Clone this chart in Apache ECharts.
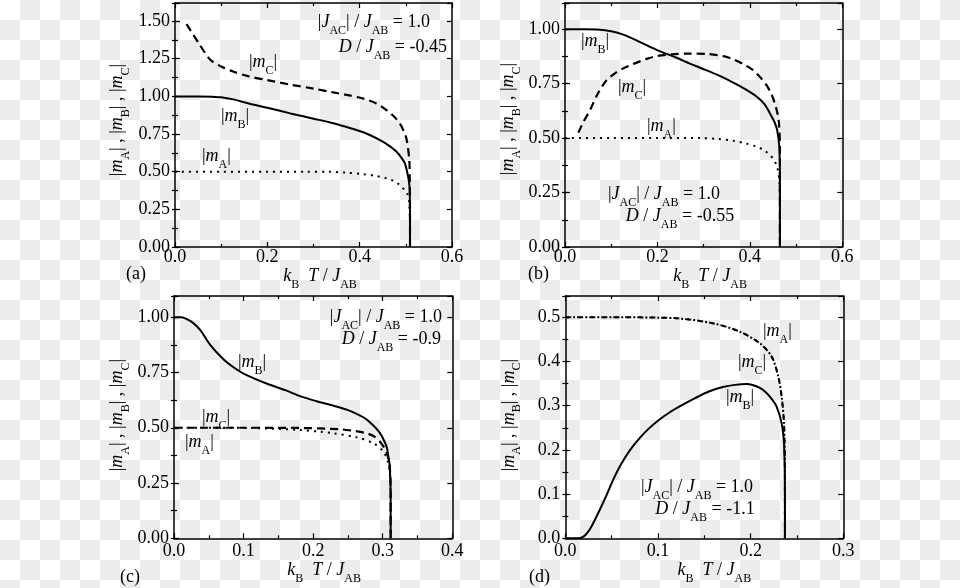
<!DOCTYPE html>
<html><head><meta charset="utf-8">
<script src="https://cdn.jsdelivr.net/npm/echarts@6/dist/echarts.min.js"></script>
<style>
html,body{margin:0;padding:0;}
body{width:960px;height:588px;background-color:#fff;background-image:repeating-conic-gradient(#ececec 0 25%, #ffffff 0 50%);background-size:40px 40px;}
#c{width:960px;height:588px;}
</style></head><body><div id="c"></div>
<script>
const FONT = 'Liberation Serif';

// ---- data: [kB T / J_AB, |m|] ----
// panel (a)  |JAC|/JAB = 1.0, D/JAB = -0.45
const a_mA = [[0,0.5],[0.1,0.5],[0.2,0.5],[0.28,0.5],[0.336,0.499],[0.37,0.494],[0.408,0.484],[0.435,0.472],[0.458,0.456],[0.475,0.437],[0.487,0.411],[0.497,0.38],[0.503,0.356],[0.507,0.3],[0.509,0.15],[0.509,0]];
const a_mB = [[0,1],[0.05,1],[0.08,0.998],[0.1,0.994],[0.126,0.98],[0.16,0.953],[0.2,0.925],[0.25,0.887],[0.3,0.852],[0.336,0.827],[0.37,0.798],[0.408,0.762],[0.444,0.71],[0.465,0.67],[0.48,0.632],[0.491,0.59],[0.498,0.555],[0.505,0.467],[0.508,0.4],[0.509,0.2],[0.509,0]];
const a_mC = [[0.025,1.48],[0.05,1.36],[0.076,1.245],[0.1,1.198],[0.126,1.165],[0.16,1.133],[0.2,1.108],[0.25,1.078],[0.3,1.052],[0.34,1.028],[0.375,1.008],[0.408,0.985],[0.435,0.955],[0.458,0.909],[0.475,0.865],[0.487,0.82],[0.496,0.765],[0.502,0.71],[0.5075,0.577],[0.5085,0.45],[0.509,0.3],[0.509,0]];
// panel (b)  |JAC|/JAB = 1.0, D/JAB = -0.55
const b_mA = [[0,0.5],[0.1,0.5],[0.2,0.5],[0.292,0.5],[0.33,0.496],[0.364,0.488],[0.39,0.476],[0.415,0.46],[0.43,0.445],[0.4435,0.422],[0.452,0.4],[0.459,0.368],[0.4637,0.307],[0.465,0.2],[0.465,0]];
const b_mB = [[0,1],[0.04,1],[0.07,0.998],[0.1,0.99],[0.126,0.975],[0.16,0.943],[0.198,0.905],[0.24,0.87],[0.27,0.842],[0.292,0.823],[0.33,0.79],[0.364,0.755],[0.39,0.725],[0.415,0.69],[0.432,0.655],[0.4435,0.613],[0.453,0.575],[0.459,0.537],[0.4637,0.46],[0.465,0.3],[0.465,0]];
const b_mC = [[0.029,0.525],[0.04,0.575],[0.054,0.628],[0.07,0.7],[0.09,0.766],[0.11,0.8],[0.126,0.82],[0.145,0.838],[0.162,0.852],[0.18,0.866],[0.198,0.876],[0.23,0.884],[0.27,0.888],[0.307,0.886],[0.342,0.876],[0.364,0.862],[0.385,0.84],[0.407,0.812],[0.422,0.78],[0.436,0.743],[0.447,0.7],[0.454,0.659],[0.459,0.62],[0.463,0.567],[0.465,0.45],[0.465,0]];
// panel (c)  |JAC|/JAB = 1.0, D/JAB = -0.9
const c_mA = [[0,0.5],[0.08,0.5],[0.13,0.497],[0.181,0.49],[0.21,0.482],[0.229,0.475],[0.2625,0.457],[0.2865,0.43],[0.301,0.392],[0.308,0.339],[0.3105,0.28],[0.3114,0.15],[0.3114,0]];
const c_mB = [[0,1],[0.01,1],[0.016,0.995],[0.025,0.98],[0.037,0.945],[0.052,0.875],[0.071,0.81],[0.085,0.775],[0.1,0.745],[0.133,0.7],[0.16,0.67],[0.181,0.643],[0.205,0.62],[0.229,0.6],[0.25,0.58],[0.2625,0.563],[0.275,0.542],[0.2865,0.51],[0.295,0.48],[0.301,0.448],[0.306,0.41],[0.308,0.37],[0.31,0.33],[0.3114,0.2],[0.3114,0]];
const c_mC = [[0,0.5],[0.1,0.5],[0.181,0.499],[0.2386,0.493],[0.26,0.485],[0.277,0.475],[0.288,0.46],[0.296,0.437],[0.302,0.41],[0.3066,0.377],[0.31,0.33],[0.3114,0.2],[0.3114,0]];
// panel (d)  |JAC|/JAB = 1.0, D/JAB = -1.1  (|mA| and |mC| coincide)
const d_mA = [[0,0.5],[0.06,0.5],[0.1,0.499],[0.1236,0.497],[0.16,0.486],[0.1885,0.467],[0.21,0.441],[0.2227,0.411],[0.2298,0.366],[0.2335,0.32],[0.236,0.26],[0.237,0.15],[0.237,0]];
const d_mC = [[0,0.5],[0.06,0.5],[0.1,0.499],[0.1236,0.497],[0.16,0.486],[0.1885,0.467],[0.21,0.441],[0.2227,0.411],[0.2298,0.366],[0.2335,0.32],[0.236,0.26],[0.237,0.15],[0.237,0]];
const d_mB = [[0,0],[0.015,0],[0.018,0.002],[0.022,0.008],[0.027,0.022],[0.032,0.042],[0.038,0.068],[0.045,0.1],[0.052,0.134],[0.06,0.167],[0.07,0.2],[0.08,0.226],[0.09,0.248],[0.1,0.266],[0.112,0.284],[0.125,0.3],[0.14,0.317],[0.155,0.332],[0.17,0.342],[0.183,0.347],[0.1957,0.349],[0.203,0.346],[0.21,0.34],[0.216,0.331],[0.2209,0.32],[0.228,0.298],[0.2335,0.26],[0.236,0.215],[0.237,0.1],[0.237,0]];

// parameter labels
const jacText = ['1.0','1.0','1.0','1.0'];
const dText = ['-0.45','-0.55','-0.9','-1.1'];
const panelTags = ['(a)','(b)','(c)','(d)'];

// ---- layout ----
const panels = [
  {grid:{left:175,top:3,width:277,height:244}, xMax:0.6, xInt:0.2, yMax:1.62, yInt:0.25, yDec:2, xLM:1, xNG:12, xNP:13, yNG:43, yNP:10},
  {grid:{left:565,top:3,width:277.3,height:244}, xMax:0.6, xInt:0.2, yMax:1.12, yInt:0.25, yDec:2, xLM:1, xNG:12, xNP:13, yNG:42, yNP:12},
  {grid:{left:174,top:296,width:278.3,height:242.3}, xMax:0.4, xInt:0.1, yMax:1.096, yInt:0.25, yDec:2, xLM:4, xNG:17, xNP:22, yNG:42, yNP:4},
  {grid:{left:565.3,top:296,width:278,height:242.3}, xMax:0.3, xInt:0.1, yMax:0.548, yInt:0.1, yDec:1, xLM:4, xNG:17, xNP:20, yNG:42, yNP:4}
];

const richEC = {
  n:{fontFamily:FONT,fontSize:18,color:'#000'},
  i:{fontFamily:FONT,fontSize:18,fontStyle:'italic',color:'#000'},
  s:{fontFamily:FONT,fontSize:12,color:'#000',padding:[17,0,0,0]}
};
const richZR = {
  n:{fontFamily:FONT,fontSize:18,fill:'#000'},
  i:{fontFamily:FONT,fontSize:18,fontStyle:'italic',fill:'#000'},
  s:{fontFamily:FONT,fontSize:12,fill:'#000',padding:[17,0,0,0]}
};
const X_NAME = '{i|k}{s|B}{n|  }{i|T}{n| / }{i|J}{s|AB}';
const Y_NAME = '{n||}{i|m}{s|A}{n|| , |}{i|m}{s|B}{n|| , |}{i|m}{s|C}{n||}';
const lbl = k => '{n||}{i|m}{s|' + k + '}{n||}';
const jacStr = v => '{n||}{i|J}{s|AC}{n|| / }{i|J}{s|AB}{n| = ' + v + '}';
const dStr = v => '{i|D}{n| / }{i|J}{s|AB}{n| = ' + v + '}';

const lineAx = {show:true, onZero:false, lineStyle:{color:'#000', width:1.5}};
const tickStyle = {color:'#000', width:1.2};

const xAxis = [], yAxis = [];
panels.forEach((p, i) => {
  const xBase = {type:'value', gridIndex:i, min:0, max:p.xMax, interval:p.xInt, splitLine:{show:false},
    axisTick:{show:true, inside:true, length:5, lineStyle:tickStyle},
    minorTick:{show:true, splitNumber:2, length:3, lineStyle:tickStyle}};
  xAxis.push(Object.assign({}, xBase, {position:'bottom', axisLine:lineAx,
    axisLabel:{show:true, margin:p.xLM, fontFamily:FONT, fontSize:18, color:'#000', formatter:v => v.toFixed(1)},
    name:X_NAME, nameLocation:'middle', nameGap:p.xNG,
    nameTextStyle:{fontFamily:FONT, fontSize:18, color:'#000', rich:richEC, padding:[0,0,0,p.xNP]}}));
  xAxis.push(Object.assign({}, xBase, {position:'top', axisLine:lineAx, axisLabel:{show:false}}));
  const isMajor = v => Math.abs(v / p.yInt - Math.round(v / p.yInt)) < 1e-6;
  const yBase = {type:'value', gridIndex:i, min:0, max:p.yMax, splitLine:{show:false}};
  yAxis.push(Object.assign({}, yBase, {position:'left', interval:p.yInt, axisLine:lineAx,
    axisTick:{show:true, inside:true, length:5, lineStyle:tickStyle},
    axisLabel:{show:true, margin:5, fontFamily:FONT, fontSize:18, color:'#000', formatter:v => isMajor(v) ? v.toFixed(p.yDec) : ''},
    name:Y_NAME, nameLocation:'middle', nameGap:p.yNG, nameRotate:90,
    nameTextStyle:{fontFamily:FONT, fontSize:18, color:'#000', rich:richEC, padding:[0,0,0,p.yNP]}}));
  yAxis.push(Object.assign({}, yBase, {position:'left', interval:p.yInt/2, axisLine:{show:false},
    axisTick:{show:true, inside:true, length:3, lineStyle:tickStyle}, axisLabel:{show:false}}));
  yAxis.push(Object.assign({}, yBase, {position:'right', interval:p.yInt, axisLine:lineAx,
    axisTick:{show:true, inside:true, length:5, lineStyle:tickStyle}, axisLabel:{show:false}}));
  yAxis.push(Object.assign({}, yBase, {position:'right', interval:p.yInt/2, axisLine:{show:false},
    axisTick:{show:true, inside:true, length:3, lineStyle:tickStyle}, axisLabel:{show:false}}));
});

const SOLID = {color:'#000', width:2, type:'solid'};
const DASH = {color:'#000', width:2.2, type:[8,5]};
const DOT = {color:'#000', width:2, type:[2,5]};
const DASH_D = {color:'#000', width:2, type:[6,6]};
const DOT_D = {color:'#000', width:2, type:[2,4], dashOffset:4};

function line(name, data, pi, style) {
  return {type:'line', name, data, xAxisIndex:pi*2, yAxisIndex:pi*4, showSymbol:false, symbol:'none',
    smooth:0.3, lineStyle:style, silent:true, animation:false, z:3};
}
const series = [
  line('|mA|', a_mA, 0, DOT), line('|mB|', a_mB, 0, SOLID), line('|mC|', a_mC, 0, DASH),
  line('|mA|', b_mA, 1, DOT), line('|mB|', b_mB, 1, SOLID), line('|mC|', b_mC, 1, DASH),
  line('|mA|', c_mA, 2, DOT), line('|mB|', c_mB, 2, SOLID), line('|mC|', c_mC, 2, DASH),
  line('|mA|', d_mA, 3, DOT_D), line('|mB|', d_mB, 3, SOLID), line('|mC|', d_mC, 3, DASH_D)
];

function txt(x, y, text, align) {
  return {type:'text', x:x, y:y, z:10, silent:true,
    style:{text:text, rich:richZR, align:align || 'left', verticalAlign:'middle', fill:'#000', fontFamily:FONT, fontSize:18}};
}
const graphic = [
  // (a)
  txt(430, 22, jacStr(jacText[0]), 'right'),
  txt(447, 47, dStr(dText[0]), 'right'),
  txt(249, 62, lbl('C')), txt(221, 116, lbl('B')), txt(202, 156, lbl('A')),
  txt(126, 274, '{n|' + panelTags[0] + '}'),
  // (b)
  txt(664, 194, jacStr(jacText[1]), 'center'),
  txt(680, 216, dStr(dText[1]), 'center'),
  txt(581, 41, lbl('B')), txt(618, 87, lbl('C')), txt(647, 126, lbl('A')),
  txt(528, 274, '{n|' + panelTags[1] + '}'),
  // (c)
  txt(442, 317, jacStr(jacText[2]), 'right'),
  txt(441, 339, dStr(dText[2]), 'right'),
  txt(238, 362, lbl('B')), txt(202, 417, lbl('C')), txt(185, 442, lbl('A')),
  txt(120, 577, '{n|' + panelTags[2] + '}'),
  // (d)
  txt(697, 487, jacStr(jacText[3]), 'center'),
  txt(705, 509, dStr(dText[3]), 'center'),
  txt(763, 331, lbl('A')), txt(738, 362, lbl('C')), txt(726, 397, lbl('B')),
  txt(529, 577, '{n|' + panelTags[3] + '}')
];

const chart = echarts.init(document.getElementById('c'), null, {renderer:'canvas'});
chart.setOption({
  backgroundColor:'transparent',
  animation:false,
  grid: panels.map(p => Object.assign({containLabel:false, show:false}, p.grid)),
  xAxis, yAxis, series, graphic
});
</script></body></html>
